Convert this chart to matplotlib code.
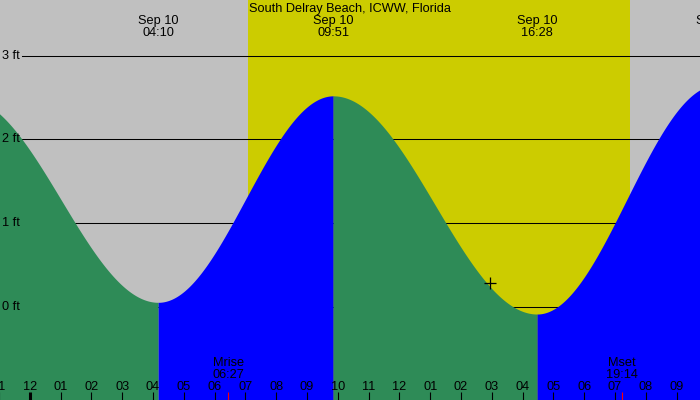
import numpy as np
import matplotlib
matplotlib.use("Agg")
import matplotlib.pyplot as plt
from matplotlib.transforms import blended_transform_factory

plt.rcParams['font.family'] = ['Liberation Sans', 'DejaVu Sans']

# ---------------- data ----------------
title = "South Delray Beach, ICWW, Florida"
# tide extremes: hours relative to midnight Sep 10, heights in ft
tide_times = [-2.13, 4.167, 9.85, 16.467, 22.30]
tide_heights = [2.50, 0.05, 2.52, -0.09, 2.65]
tide_dates = ["Sep 09", "Sep 10", "Sep 10", "Sep 10", "Sep 10"]
tide_clock = ["21:52", "04:10", "09:51", "16:28", "22:18"]
sunrise, sunset = 7.07, 19.50
moon_times = [6.45, 19.233]
moon_names = ["Mrise", "Mset"]
moon_clock = ["06:27", "19:14"]
hour_ticks = list(range(-1, 22))
hour_labels = ["11", "12", "01", "02", "03", "04", "05", "06", "07", "08", "09", "10",
               "11", "12", "01", "02", "03", "04", "05", "06", "07", "08", "09"]
ft_ticks = [0, 1, 2, 3]
ft_labels = ["0 ft", "1 ft", "2 ft", "3 ft"]
now_time, now_height = 14.94, 0.285

# ---------------- figure ----------------
W, H = 700, 400
fig = plt.figure(figsize=(7, 4), dpi=100)
ax = fig.add_axes([0, 0, 1, 1])
px_per_hr, x0 = 30.8, 29.8
xlo, xhi = -x0 / px_per_hr, (W - x0) / px_per_hr
ax.set_xlim(xlo, xhi)
px_per_ft, y0 = 83.6, 306.5
ylo, yhi = -(H - y0) / px_per_ft, y0 / px_per_ft
ax.set_ylim(ylo, yhi)
ax.axis('off')

GRAY = "#c0c0c0"
YELLOW = "#cccc00"
GREEN = "#2e8b57"
BLUE = "#0000ff"

ax.axvspan(xlo, xhi, color=GRAY, zorder=0, lw=0)
ax.axvspan(sunrise, sunset, color=YELLOW, zorder=0.5, lw=0)

for y in ft_ticks:
    ax.axhline(y, xmin=22 / W, xmax=1, color="black", lw=0.75, zorder=1)

for i in range(len(tide_times) - 1):
    t1, t2 = tide_times[i], tide_times[i + 1]
    h1, h2 = tide_heights[i], tide_heights[i + 1]
    t = np.linspace(t1, t2, 300)
    h = h1 + (h2 - h1) * (1 - np.cos(np.pi * (t - t1) / (t2 - t1))) / 2
    col = GREEN if h2 < h1 else BLUE
    ax.fill_between(t, ylo - 1, h, color=col, lw=0, zorder=2)

bt = blended_transform_factory(ax.transData, ax.transAxes)
at = ax.transAxes
fs = 9.2

def fy(py):
    return 1 - py / H

ax.text(0.5, fy(12), title, transform=at, ha='center', va='baseline', fontsize=fs, zorder=5)
for t, d, c in zip(tide_times, tide_dates, tide_clock):
    if t < xlo:
        continue
    ax.text(t, fy(24), d, transform=bt, ha='center', va='baseline', fontsize=fs, zorder=5)
    ax.text(t, fy(36), c, transform=bt, ha='center', va='baseline', fontsize=fs, zorder=5)

for y, lab in zip(ft_ticks, ft_labels):
    ax.text(2 / W, y, lab, transform=blended_transform_factory(ax.transAxes, ax.transData),
            ha='left', va='center', fontsize=fs, zorder=5)

for t, lab in zip(hour_ticks, hour_labels):
    ax.text(t, fy(390), lab, transform=bt, ha='center', va='baseline', fontsize=fs, zorder=5)
    lw = 2.2 if t == 0 else 0.8
    ax.plot([t, t], [0, 8 / H], transform=bt, color='black', lw=lw, zorder=5,
            solid_capstyle='butt')

for t, n, c in zip(moon_times, moon_names, moon_clock):
    ax.text(t, fy(366.5), n, transform=bt, ha='center', va='baseline', fontsize=fs, zorder=5)
    ax.text(t, fy(378.5), c, transform=bt, ha='center', va='baseline', fontsize=fs, zorder=5)
    ax.plot([t, t], [0, 8 / H], transform=bt, color='red', lw=0.8, zorder=5,
            solid_capstyle='butt')

ax.plot([now_time], [now_height], marker='+', color='black', ms=8, mew=0.9, zorder=6)

fig.savefig("out.png", dpi=100)
